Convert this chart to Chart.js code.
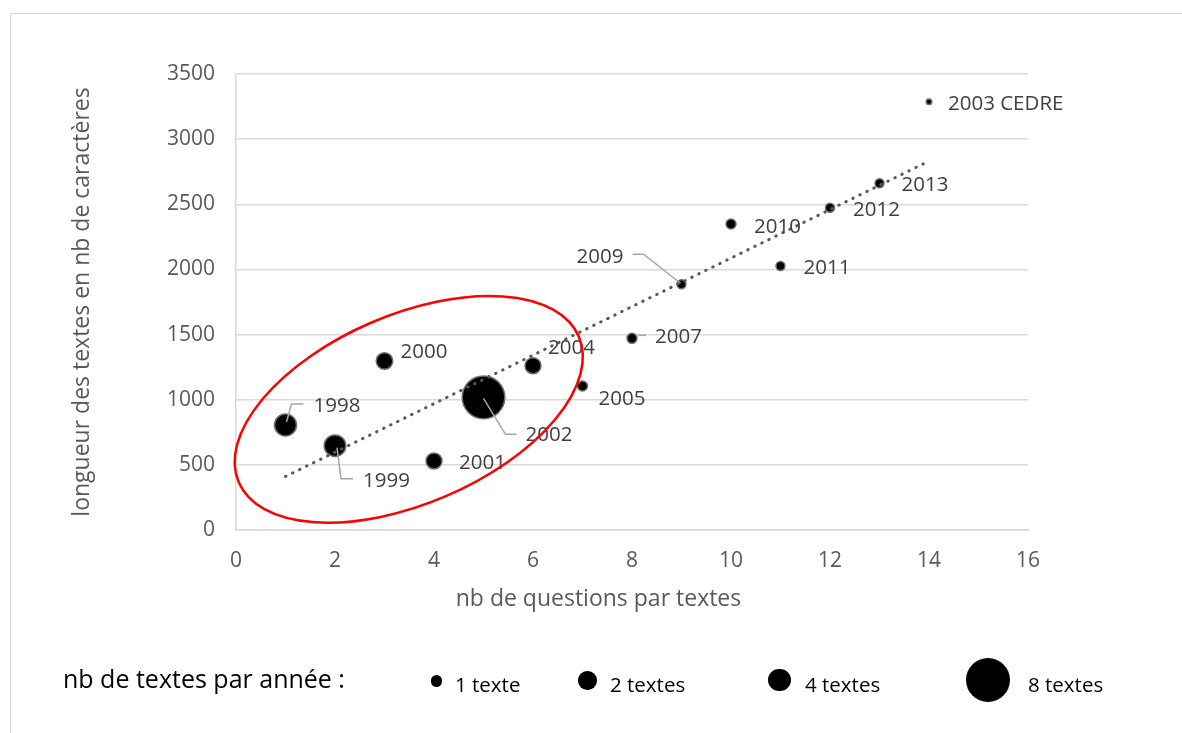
<!DOCTYPE html>
<html><head><meta charset="utf-8">
<script src="https://cdn.jsdelivr.net/npm/chart.js@4/dist/chart.umd.min.js"></script>
<style>
html,body{margin:0;padding:0;background:#fff;overflow:hidden;}
#wrap{position:relative;width:1182px;height:733px;overflow:hidden;}
#frame{position:absolute;left:10px;top:13px;width:1220px;height:800px;border:1.5px solid #d9d9d9;box-sizing:border-box;}
canvas{position:absolute;left:0;top:0;}
.leg{position:absolute;font-family:'Open Sans';color:#000;white-space:nowrap;line-height:1;}
.dot{position:absolute;background:#000;border-radius:50%;}
</style></head>
<body><div id="wrap"><div id="frame"></div><canvas id="c" width="1182" height="733"></canvas>
<div id="legend"></div></div>
<script>
// ---- data ----
const annees = ['1998','1999','2000','2001','2002','2004','2005','2007','2009','2010','2011','2012','2013','2003 CEDRE'];
const nbQuestions = [1,2,3,4,5,6,7,8,9,10,11,12,13,14];
const longueurs = [806,647,1297,530,1018,1261,1105,1471,1886,2349,2026,2474,2661,3287];
const tailleBulles = [11,10.8,8.3,8,21.3,8,5,5,4.5,5,4.5,4.5,4.5,2.8];
const tendanceX = [1,14];
const tendanceY = [411,2832];
const yTicks = [0,500,1000,1500,2000,2500,3000,3500];
const xTicks = [0,2,4,6,8,10,12,14,16];
const titreX = 'nb de questions par textes';
const titreY = 'longueur des textes en nb de caractères';
const legendeTitre = 'nb de textes par année :';
const legendeLabels = ['1 texte','2 textes','4 textes','8 textes'];

// ---- layout / styles ----
const labelLayout = {
  '1998': {dx:28, dy:-19, leader:[[1,-3],[6,-21],[18,-21]]},
  '1999': {dx:28, dy:35, leader:[[2,2],[6,33],[18,33]]},
  '2000': {dx:16, dy:-9},
  '2001': {dx:25, dy:2},
  '2002': {dx:42, dy:38, leader:[[0,1],[22,37],[33,37]]},
  '2004': {dx:15, dy:-18},
  '2005': {dx:16, dy:13},
  '2007': {dx:23, dy:-1, leader:[[6,-3],[14,-3]]},
  '2009': {dx:-105, dy:-27, leader:[[-1,-1],[-38,-30],[-49,-30]]},
  '2010': {dx:23, dy:3},
  '2011': {dx:23, dy:2},
  '2012': {dx:23, dy:2},
  '2013': {dx:22, dy:2},
  '2003 CEDRE': {dx:19, dy:2}
};
const legendLayout = {
  title:{x:63, cy:680, size:25},
  items:[{cx:436.5,cy:681,r:5.8,tx:455},{cx:587.5,cy:680.5,r:9.2,tx:610},{cx:779.5,cy:680,r:11.2,tx:805},{cx:988,cy:680,r:22,tx:1028}],
  textCy:685, textSize:20.5
};

const bubbleData = nbQuestions.map((x,i)=>({x:x, y:longueurs[i], r:tailleBulles[i]}));
const trendData = tendanceX.map((x,i)=>({x:x, y:tendanceY[i]}));

const labelPlugin = {
  id:'labels',
  afterDatasetsDraw(chart){
    const meta = chart.getDatasetMeta(1);
    const ctx = chart.ctx;
    ctx.save();
    ctx.font = '20.5px "Open Sans"';
    ctx.fillStyle = '#404040';
    ctx.textBaseline = 'middle';
    ctx.textAlign = 'left';
    meta.data.forEach((el,i)=>{
      const L = labelLayout[annees[i]];
      if (L.leader){
        ctx.beginPath();
        ctx.strokeStyle = '#a6a6a6';
        ctx.lineWidth = 1.5;
        L.leader.forEach((p,j)=>{ if(j) ctx.lineTo(el.x+p[0], el.y+p[1]); else ctx.moveTo(el.x+p[0], el.y+p[1]); });
        ctx.stroke();
      }
      ctx.fillText(annees[i], el.x+L.dx, el.y+L.dy);
    });
    ctx.restore();
  },
  afterDraw(chart){
    const ctx = chart.ctx, xs = chart.scales.x, ys = chart.scales.y;
    ctx.save();
    // red ellipse annotation
    ctx.beginPath();
    ctx.ellipse(xs.getPixelForValue(3.49), ys.getPixelForValue(926), 185, 94.5, -23.2*Math.PI/180, 0, Math.PI*2);
    ctx.strokeStyle = '#ff0000';
    ctx.lineWidth = 2.5;
    ctx.stroke();
    // x axis title
    ctx.font = '23px "Open Sans"';
    ctx.fillStyle = '#595959';
    ctx.textAlign = 'center';
    ctx.textBaseline = 'middle';
    ctx.fillText(titreX, 598.5, 599);
    ctx.restore();
  }
};

new Chart(document.getElementById('c'), {
  type:'bubble',
  data:{datasets:[
    {type:'scatter', label:'tendance', data:trendData, showLine:true, pointRadius:0, borderColor:'#595959', borderWidth:3, borderDash:[0.5,7.3], borderCapStyle:'round', fill:false, order:0},
    {label:'textes', data:bubbleData, backgroundColor:'#000000', borderColor:'#6e6e6e', borderWidth:1.5, order:1}
  ]},
  options:{
    responsive:false, animation:false, devicePixelRatio:1,
    layout:{padding:{left:0, top:74, right:154, bottom:0}},
    plugins:{legend:{display:false}, tooltip:{enabled:false}},
    scales:{
      x:{type:'linear', min:xTicks[0], max:xTicks[xTicks.length-1],
        afterBuildTicks:s=>{ s.ticks = xTicks.map(v=>({value:v})); },
        ticks:{color:'#595959', font:{family:'Open Sans', size:21}, padding:18, callback:v=>String(v)},
        grid:{display:false, drawTicks:false},
        border:{display:true, color:'#d9d9d9', width:1.5},
        afterFit:s=>{ s.height = 203; }
      },
      y:{type:'linear', min:yTicks[0], max:yTicks[yTicks.length-1],
        afterBuildTicks:s=>{ s.ticks = yTicks.map(v=>({value:v})); },
        ticks:{color:'#595959', font:{family:'Open Sans', size:21}, padding:21, callback:v=>String(v)},
        grid:{color:'#d9d9d9', lineWidth:1.5, drawTicks:false},
        border:{display:true, color:'#d9d9d9', width:1.5},
        title:{display:true, text:titreY, color:'#595959', font:{family:'Open Sans', size:23}, padding:{top:82.5-13.8, bottom:0}},
        afterFit:s=>{ s.width = 236; }
      }
    }
  },
  plugins:[labelPlugin]
});

// ---- bottom legend (html) ----
const lg = document.getElementById('legend');
const t = document.createElement('div');
t.className='leg'; t.textContent = legendeTitre;
t.style.left = legendLayout.title.x+'px';
t.style.top = (legendLayout.title.cy - legendLayout.title.size*0.55)+'px';
t.style.fontSize = legendLayout.title.size+'px';
lg.appendChild(t);
legendeLabels.forEach((txt,i)=>{
  const it = legendLayout.items[i];
  const d = document.createElement('div');
  d.className='dot';
  d.style.left=(it.cx-it.r)+'px'; d.style.top=(it.cy-it.r)+'px';
  d.style.width=(2*it.r)+'px'; d.style.height=(2*it.r)+'px';
  lg.appendChild(d);
  const s = document.createElement('div');
  s.className='leg'; s.textContent = txt;
  s.style.left = it.tx+'px';
  s.style.top = (legendLayout.textCy - legendLayout.textSize*0.55)+'px';
  s.style.fontSize = legendLayout.textSize+'px';
  lg.appendChild(s);
});
</script>
</body></html>
